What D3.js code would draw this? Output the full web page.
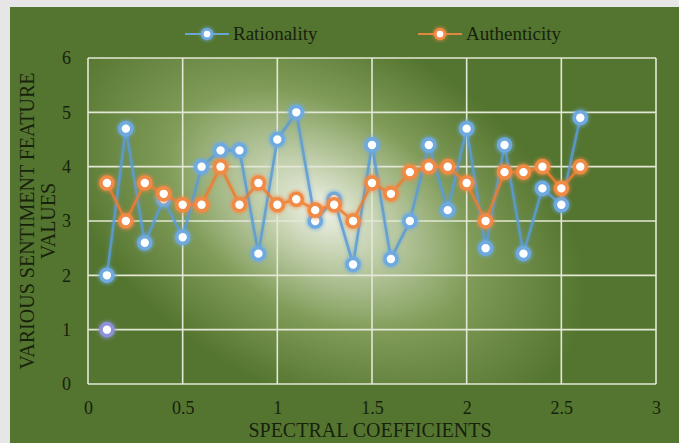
<!DOCTYPE html>
<html lang='en'>
<head>
   <meta charset='UTF-8'>
   <title>Sentiment features</title>
   <script src='https://d3js.org/d3.v7.min.js'></script>
   <style>
      body { margin: 0; background: #e6e6e6; }
      svg { display: block; }
      text { font-family: 'Liberation Serif', 'Times New Roman', serif; fill: #17220d; }
   </style>
</head>
<body>
   <div id='chart'></div>
   <script>
      // data
      const coeffs = [0.1, 0.2, 0.3, 0.4, 0.5, 0.6, 0.7, 0.8, 0.9, 1.0, 1.1, 1.2, 1.3,
         1.4, 1.5, 1.6, 1.7, 1.8, 1.9, 2.0, 2.1, 2.2, 2.3, 2.4, 2.5, 2.6];
      const rationality = [2.0, 4.7, 2.6, 3.4, 2.7, 4.0, 4.3, 4.3, 2.4, 4.5, 5.0, 3.0, 3.4,
         2.2, 4.4, 2.3, 3.0, 4.4, 3.2, 4.7, 2.5, 4.4, 2.4, 3.6, 3.3, 4.9];
      const authenticity = [3.7, 3.0, 3.7, 3.5, 3.3, 3.3, 4.0, 3.3, 3.7, 3.3, 3.4, 3.2, 3.3,
         3.0, 3.7, 3.5, 3.9, 4.0, 4.0, 3.7, 3.0, 3.9, 3.9, 4.0, 3.6, 4.0];
      const strayPoint = [[0.1, 1.0]];
      const xTicks = [0, 0.5, 1, 1.5, 2, 2.5, 3];
      const yTicks = [0, 1, 2, 3, 4, 5, 6];

      const W = 679, H = 443;
      const svg = d3.select('#chart').append('svg').attr('width', W).attr('height', H);
      const defs = svg.append('defs');

      const grad = defs.append('radialGradient').attr('id', 'glow-bg')
         .attr('gradientUnits', 'userSpaceOnUse')
         .attr('cx', 320).attr('cy', 210).attr('r', 240)
         .attr('gradientTransform', 'translate(320,210) rotate(30) scale(1.2,0.75) translate(-320,-210)');
      grad.append('stop').attr('offset', '0%').attr('stop-color', '#eef1e6');
      grad.append('stop').attr('offset', '22%').attr('stop-color', '#c5d2b0');
      grad.append('stop').attr('offset', '58%').attr('stop-color', '#7f9b57');
      grad.append('stop').attr('offset', '100%').attr('stop-color', '#54752f');

      const blur = defs.append('filter').attr('id', 'soft')
         .attr('x', '-50%').attr('y', '-50%').attr('width', '200%').attr('height', '200%');
      blur.append('feGaussianBlur').attr('stdDeviation', 1.6);

      // outer chart area
      svg.append('rect').attr('x', 10).attr('y', 7).attr('width', W - 10).attr('height', H - 7)
         .attr('fill', '#54752f');

      const x = d3.scaleLinear().domain([0, 3]).range([88, 656]);
      const y = d3.scaleLinear().domain([0, 6]).range([384, 58]);

      svg.append('rect').attr('x', x(0)).attr('y', y(6))
         .attr('width', x(3) - x(0)).attr('height', y(0) - y(6))
         .attr('fill', 'url(#glow-bg)');

      // grid
      const grid = svg.append('g').attr('stroke', '#e3e8d6').attr('stroke-width', 1.6);
      grid.selectAll('.h').data(yTicks).join('line')
         .attr('x1', x(0)).attr('x2', x(3)).attr('y1', d => y(d)).attr('y2', d => y(d));
      grid.selectAll('.v').data(xTicks).join('line')
         .attr('y1', y(0)).attr('y2', y(6)).attr('x1', d => x(d)).attr('x2', d => x(d));

      // axes (labels only)
      const xAxis = svg.append('g').attr('transform', `translate(0, ${y(0) + 14})`)
         .call(d3.axisBottom(x).tickValues(xTicks).tickSize(0).tickFormat(d3.format('')));
      const yAxis = svg.append('g').attr('transform', `translate(${x(0) - 14}, 0)`)
         .call(d3.axisLeft(y).tickValues(yTicks).tickSize(0).tickFormat(d3.format('d')));
      [xAxis, yAxis].forEach(a => {
         a.select('.domain').remove();
         a.selectAll('text').style('font-size', '18px').attr('fill', '#17220d')
            .style('font-family', "'Liberation Serif', serif");
      });
      yAxis.selectAll('text').attr('dx', 0);

      // titles
      svg.append('text').attr('x', 370).attr('y', 437).attr('text-anchor', 'middle')
         .style('font-size', '20px').text('SPECTRAL COEFFICIENTS');
      const yt = svg.append('text').attr('transform', 'translate(0,221) rotate(-90)')
         .attr('text-anchor', 'middle').style('font-size', '20px');
      yt.append('tspan').attr('x', 0).attr('y', 34).text('VARIOUS SENTIMENT FEATURE');
      yt.append('tspan').attr('x', 0).attr('y', 55).text('VALUES');

      const series = [
         { name: 'Rationality', values: rationality, color: '#5b9bd5', ring: '#6eaae0', lx: 185 },
         { name: 'Authenticity', values: authenticity, color: '#ed7d31', ring: '#f08a45', lx: 418 }
      ];

      const line = d3.line().x(d => x(d[0])).y(d => y(d[1]));

      const drawMarker = (g, cx, cy, color, k) => {
         g.append('circle').attr('cx', cx).attr('cy', cy).attr('r', 9.5 * k)
            .attr('fill', color).attr('opacity', 0.5).attr('filter', 'url(#soft)');
         g.append('circle').attr('cx', cx).attr('cy', cy).attr('r', 6 * k)
            .attr('fill', '#ffffff').attr('stroke', color).attr('stroke-width', 3.6 * k);
         g.append('circle').attr('cx', cx).attr('cy', cy).attr('r', 3 * k)
            .attr('fill', '#ffffff');
      };

      series.forEach(s => {
         const pts = coeffs.map((c, i) => [c, s.values[i]]);
         const g = svg.append('g');
         g.append('path').datum(pts).attr('d', line).attr('fill', 'none')
            .attr('stroke', s.color).attr('stroke-width', 5).attr('opacity', 0.3)
            .attr('filter', 'url(#soft)');
         g.append('path').datum(pts).attr('d', line).attr('fill', 'none')
            .attr('stroke', s.color).attr('stroke-width', 2.6).attr('opacity', 0.85);
         pts.forEach(p => drawMarker(g, x(p[0]), y(p[1]), s.ring, 1));

         // legend
         const lg = svg.append('g');
         lg.append('line').attr('x1', s.lx).attr('x2', s.lx + 44).attr('y1', 34).attr('y2', 34)
            .attr('stroke', s.ring).attr('stroke-width', 2).attr('opacity', 0.9);
         drawMarker(lg, s.lx + 22, 34, s.ring, 0.8);
         lg.append('text').attr('x', s.lx + 48).attr('y', 40).style('font-size', '19px').text(s.name);
      });

      const stray = svg.append('g');
      strayPoint.forEach(p => drawMarker(stray, x(p[0]), y(p[1]), '#8d92d6', 1));
   </script>
</body>
</html>
